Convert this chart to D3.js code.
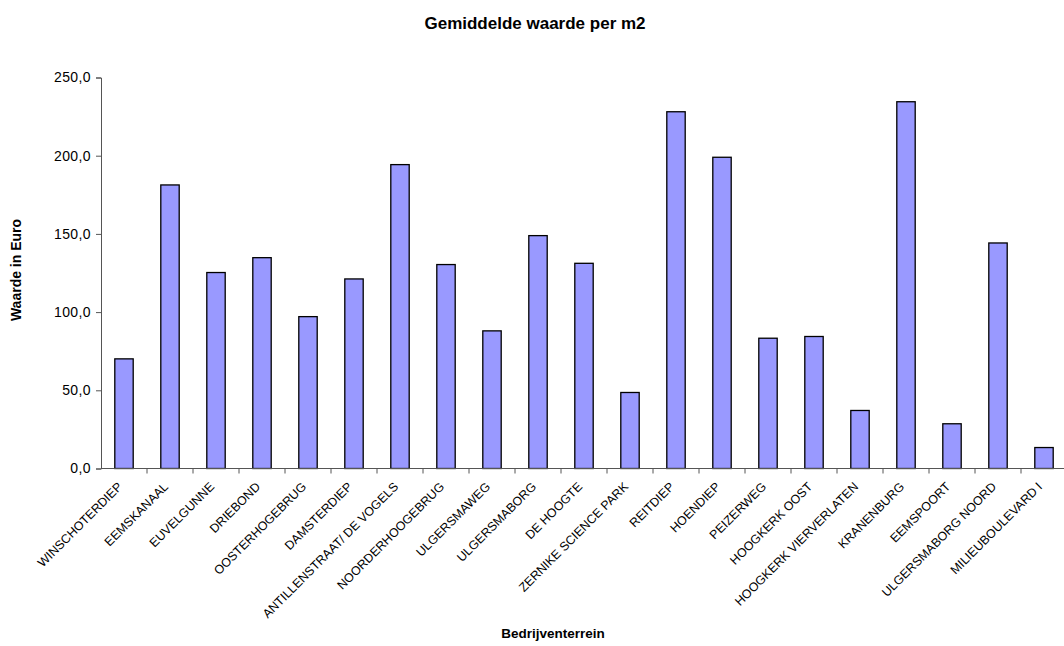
<!DOCTYPE html>
<html>
<head>
<meta charset="utf-8">
<script src="https://cdn.jsdelivr.net/npm/d3@7"></script>
<style>
  body { margin: 0; background: #fff; }
  text { font-family: "Liberation Sans", Arial, sans-serif; }
</style>
</head>
<body>
<div id="chart"></div>
<script>
// data
var categories = ["WINSCHOTERDIEP", "EEMSKANAAL", "EUVELGUNNE", "DRIEBOND", "OOSTERHOGEBRUG",
    "DAMSTERDIEP", "ANTILLENSTRAAT/ DE VOGELS", "NOORDERHOOGEBRUG", "ULGERSMAWEG", "ULGERSMABORG",
    "DE HOOGTE", "ZERNIKE SCIENCE PARK", "REITDIEP", "HOENDIEP", "PEIZERWEG", "HOOGKERK OOST",
    "HOOGKERK VIERVERLATEN", "KRANENBURG", "EEMSPOORT", "ULGERSMABORG NOORD", "MILIEUBOULEVARD I"];
var values = [70.1, 181.3, 125.3, 134.8, 97.1, 121.2, 194.3, 130.4, 88.0, 148.9,
    131.2, 48.6, 228.1, 199.0, 83.3, 84.4, 37.1, 234.5, 28.6, 144.2, 13.4];
var yTicks = [0, 50, 100, 150, 200, 250];

var width = 1064, height = 646;
var plotLeft = 101, plotRight = 1067, plotTop = 77.5, plotBottom = 468.5;

var svg = d3.select("#chart").append("svg")
    .attr("width", width)
    .attr("height", height);

var x = d3.scaleBand()
    .domain(categories)
    .range([plotLeft, plotRight])
    .paddingInner(0.6)
    .paddingOuter(0.3);

var y = d3.scaleLinear()
    .domain([0, 250])
    .range([plotBottom, plotTop]);

// bars
svg.selectAll("rect.bar")
    .data(values)
    .enter().append("rect")
    .attr("class", "bar")
    .attr("x", function (d, i) { return x(categories[i]); })
    .attr("y", function (d) { return y(d); })
    .attr("width", x.bandwidth())
    .attr("height", function (d) { return plotBottom - y(d); })
    .style("fill", "#9999ff")
    .style("stroke", "#000")
    .style("stroke-width", 1.3);

// y axis
var yAxis = svg.append("g")
    .attr("transform", "translate(" + plotLeft + ",0)")
    .call(d3.axisLeft(y).tickValues(yTicks).tickSize(5).tickPadding(5)
        .tickFormat(function (d) { return d3.format(".1f")(d).replace(".", ","); }));
yAxis.selectAll("text").style("font-size", "14px").style("fill", "#000")
    .style("letter-spacing", "0.4px");
yAxis.select(".domain").attr("stroke", "#555");
yAxis.selectAll(".tick line").attr("stroke", "#555");

// x axis: ticks between categories
var xAxis = svg.append("g")
    .attr("transform", "translate(0," + plotBottom + ")");
xAxis.append("line")
    .attr("x1", plotLeft).attr("x2", plotRight)
    .attr("stroke", "#555");
xAxis.selectAll("line.tick")
    .data(categories)
    .enter().append("line")
    .attr("class", "tick")
    .attr("x1", function (d) { return x(d) + x.step() * 0.7; })
    .attr("x2", function (d) { return x(d) + x.step() * 0.7; })
    .attr("y1", 0).attr("y2", 5)
    .attr("stroke", "#555");
xAxis.selectAll("text")
    .data(categories)
    .enter().append("text")
    .attr("transform", function (d) {
        return "translate(" + (x(d) + x.bandwidth() / 2 - 1) + ",19) rotate(-45)";
    })
    .attr("text-anchor", "end")
    .style("font-size", "12.4px")
    .text(function (d) { return d; });

// titles
svg.append("text")
    .attr("x", 535).attr("y", 29)
    .attr("text-anchor", "middle")
    .style("font-size", "17px").style("font-weight", "bold")
    .text("Gemiddelde waarde per m2");

svg.append("text")
    .attr("transform", "translate(21,270) rotate(-90)")
    .attr("text-anchor", "middle")
    .style("font-size", "14px").style("font-weight", "bold")
    .text("Waarde in Euro");

svg.append("text")
    .attr("x", 553).attr("y", 638)
    .attr("text-anchor", "middle")
    .style("font-size", "13.5px").style("font-weight", "bold")
    .text("Bedrijventerrein");
</script>
</body>
</html>
